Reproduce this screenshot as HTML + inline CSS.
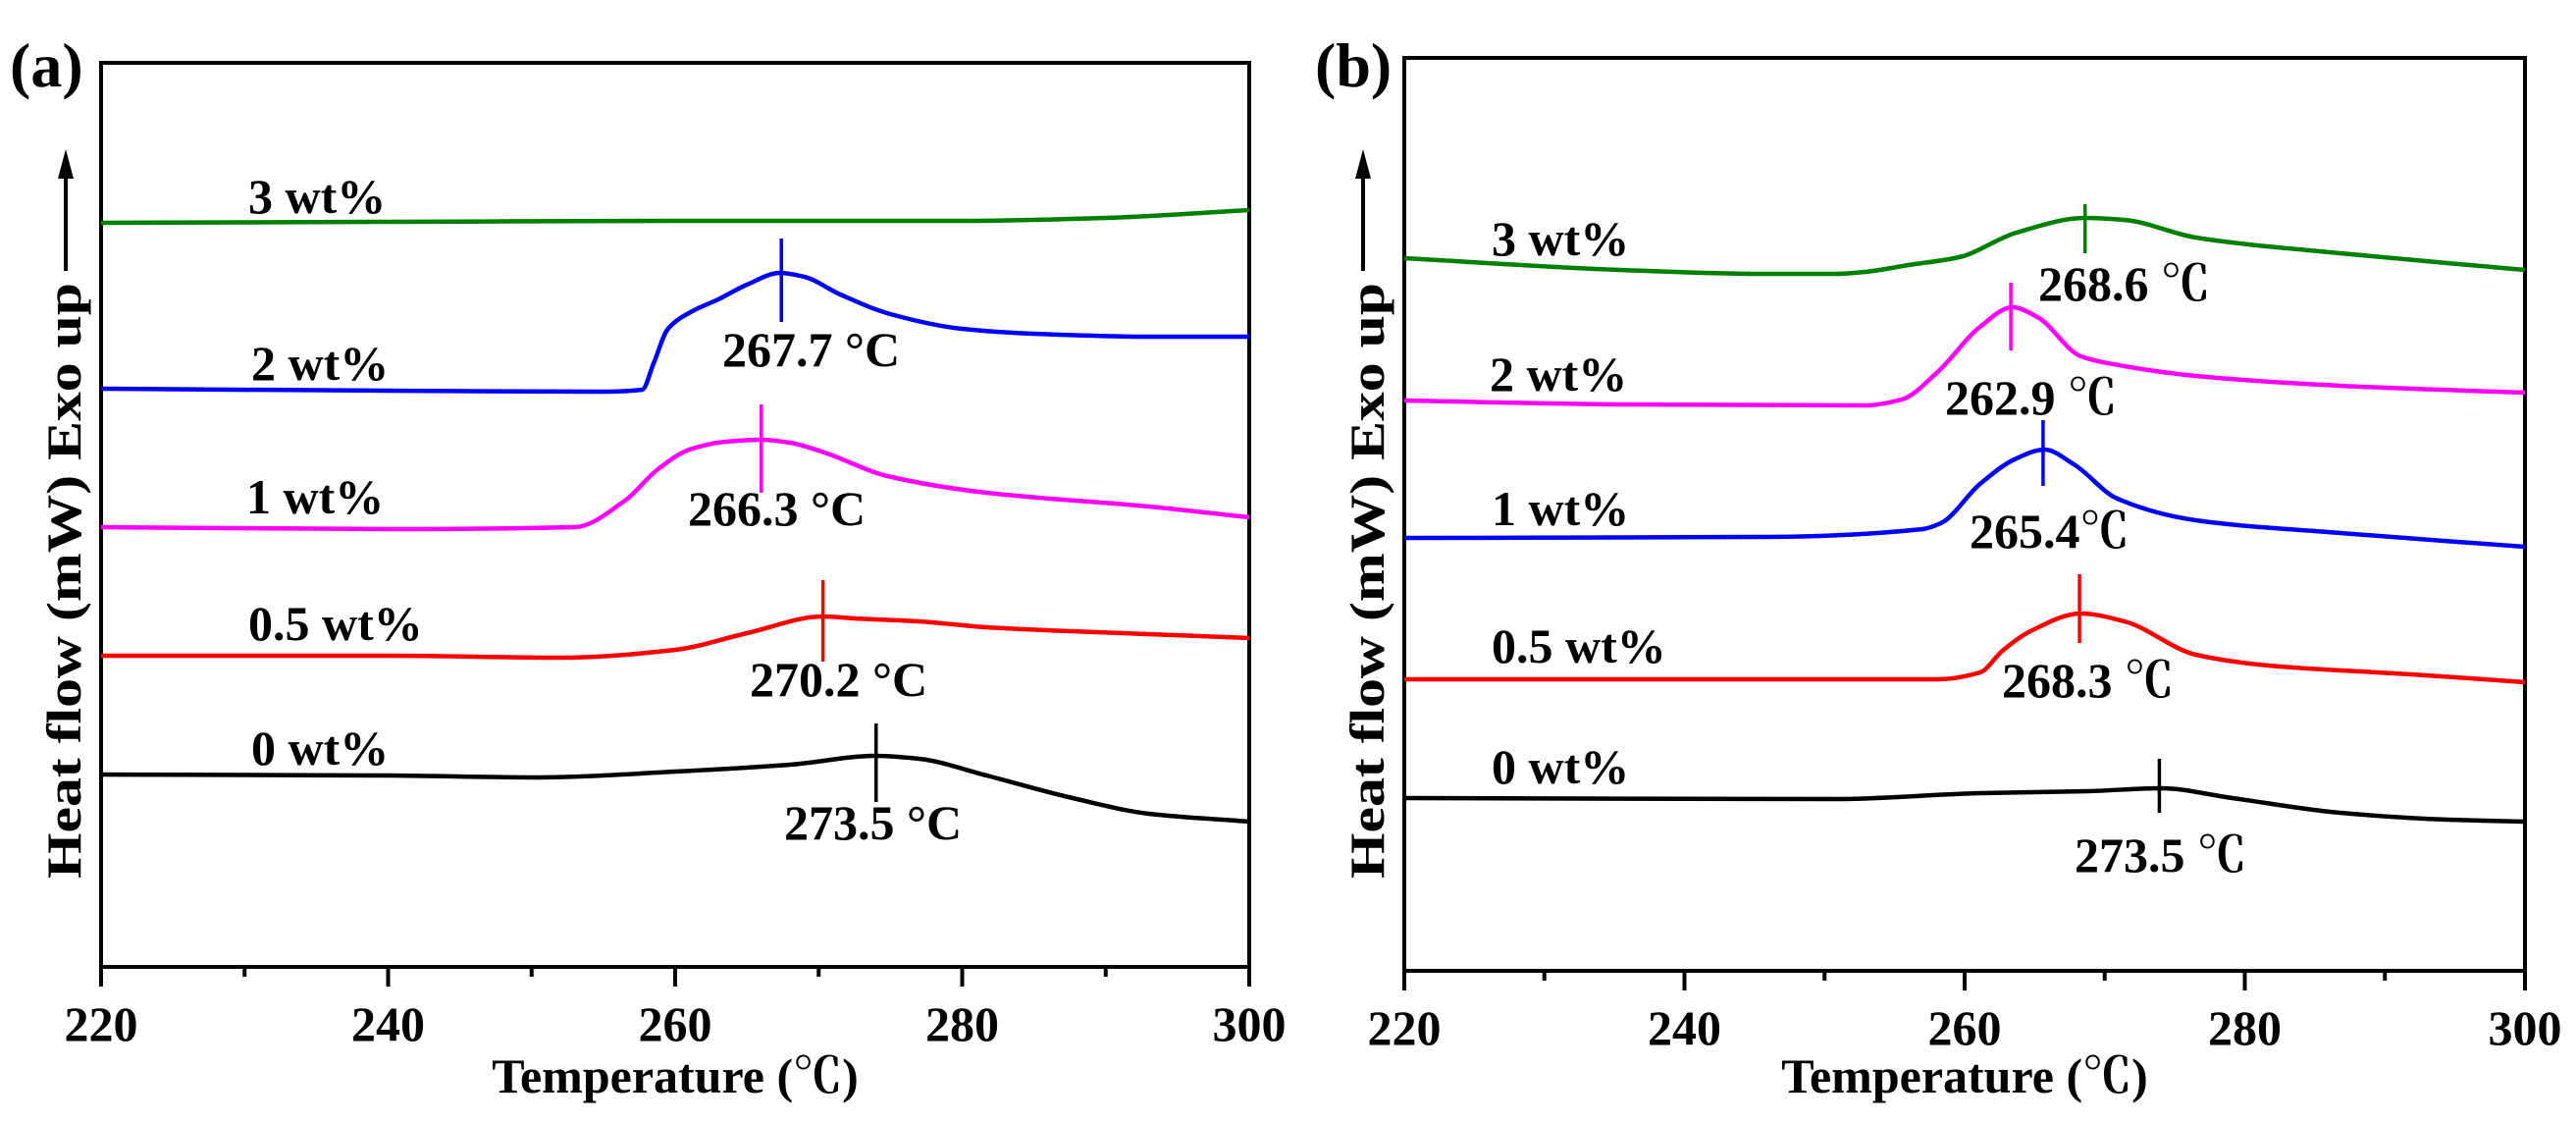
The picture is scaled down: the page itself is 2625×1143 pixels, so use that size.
<!DOCTYPE html>
<html>
<head>
<meta charset="utf-8">
<style>
html,body{margin:0;padding:0;background:#fff;}
svg{display:block;}
text{font-family:"Liberation Serif","Noto Serif CJK SC",serif;font-weight:bold;fill:#000;}
</style>
</head>
<body>
<svg id="fig" width="2625" height="1143" viewBox="0 0 2625 1143" xmlns="http://www.w3.org/2000/svg"></svg>
<script>
// ---------- data: panel (a) ----------
const xTicks = [220, 240, 260, 280, 300];
const xMinor = [230, 250, 270, 290];
const seriesNames = ["3 wt%", "2 wt%", "1 wt%", "0.5 wt%", "0 wt%"];
const seriesColors = ["#008000", "#0000ff", "#ff00ff", "#ff0000", "#000000"];

const aGreenT = [220, 240, 260, 280, 290, 300];
const aGreenV = [758, 759, 760, 760, 763, 771];
const aBlueT = [220, 240, 255, 257.7, 258.5, 259.5, 261.2, 263, 265, 267.3, 269, 271.5, 275, 280, 285, 293, 300];
const aBlueV = [589, 587, 586, 588, 615, 650, 668, 680, 695, 707, 703, 685, 665, 650, 645, 642, 642];
const aMagT = [220, 240, 253, 256.5, 258.8, 261, 263.5, 266, 268, 270.2, 274.8, 281.7, 293, 300];
const aMagV = [448, 446, 448, 475, 507, 527, 535, 537, 534, 525, 500, 483, 469, 458];
const aRedT = [220, 240, 252, 260, 265, 270.3, 272.5, 277, 281.7, 293, 300];
const aRedV = [317, 317, 315, 323, 340, 357, 355, 352, 346, 339, 335];
const aBlackT = [220, 240, 250.6, 260, 268, 274, 277, 281.7, 287.4, 293, 300];
const aBlackV = [196, 195, 193, 199, 206, 215, 212, 195, 173, 156, 148];
const aPeakT = [null, 267.4, 266.0, 270.3, 274.0];
const aPeakTop = [null, 742, 573, 394, 248];
const aPeakBot = [null, 657, 483, 311, 168];
const aPeakLabels = ["", "267.7 °C", "266.3 °C", "270.2 °C", "273.5 °C"];

// ---------- data: panel (b) ----------
const bGreenT = [220, 235.4, 245.7, 250.8, 252.9, 256, 259.6, 263.7, 268.6, 271.4, 276.5, 286.8, 300];
const bGreenV = [726, 714, 710, 710, 712, 719, 727, 752, 767, 765, 747, 731, 714];
const bMagT = [220, 235.4, 252.9, 255.5, 258, 261.1, 263.4, 265.2, 268.3, 271.4, 276.5, 286.8, 300];
const bMagV = [581, 577, 576, 582, 609, 656, 676, 666, 626, 616, 606, 596, 589];
const bBlueT = [220, 245.7, 257, 258.3, 261.1, 263.7, 265.7, 267.8, 270.9, 276.5, 286.8, 300];
const bBlueV = [441, 442, 450, 456, 496, 522, 531, 516, 481, 459, 446, 432];
const bRedT = [220, 258, 261.1, 262.7, 264.7, 268.3, 271.4, 276.5, 281.7, 291.9, 300];
const bRedV = [297, 297, 304, 326, 346, 364, 356, 322, 311, 302, 294];
const bBlackT = [220, 250.8, 261.1, 268.8, 274, 279.1, 286.8, 294.5, 300];
const bBlackV = [176, 175, 181, 183, 186, 176, 161, 154, 152];
const bPeakT = [268.6, 263.3, 265.6, 268.2, 273.9];
const bPeakTop = [781, 701, 561, 404, 216];
const bPeakBot = [731, 632, 494, 334, 161];
const bPeakLabels = ["268.6 ℃", "262.9 ℃", "265.4℃", "268.3 ℃", "273.5 ℃"];

const NS = "http://www.w3.org/2000/svg";
const svg = document.getElementById("fig");
function el(tag, attrs, parent) {
  const e = document.createElementNS(NS, tag);
  for (const k in attrs) e.setAttribute(k, attrs[k]);
  (parent || svg).appendChild(e);
  return e;
}
// monotone cubic (Fritsch-Carlson) path through screen points
function smoothPath(pts) {
  const n = pts.length;
  const dx = [], dy = [], m = [];
  for (let i = 0; i < n - 1; i++) {
    dx.push(pts[i + 1][0] - pts[i][0]);
    dy.push(pts[i + 1][1] - pts[i][1]);
    m.push(dy[i] / dx[i]);
  }
  const t = new Array(n);
  t[0] = m[0]; t[n - 1] = m[n - 2];
  for (let i = 1; i < n - 1; i++) {
    if (m[i - 1] * m[i] <= 0) t[i] = 0;
    else {
      const w1 = 2 * dx[i] + dx[i - 1], w2 = dx[i] + 2 * dx[i - 1];
      t[i] = (w1 + w2) / (w1 / m[i - 1] + w2 / m[i]);
    }
  }
  let d = "M" + pts[0][0].toFixed(1) + "," + pts[0][1].toFixed(1);
  for (let i = 0; i < n - 1; i++) {
    const h = dx[i] / 3;
    d += " C" + (pts[i][0] + h).toFixed(1) + "," + (pts[i][1] + t[i] * h).toFixed(1) + " " +
      (pts[i + 1][0] - h).toFixed(1) + "," + (pts[i + 1][1] - t[i + 1] * h).toFixed(1) + " " +
      pts[i + 1][0].toFixed(1) + "," + pts[i + 1][1].toFixed(1);
  }
  return d;
}

function drawPanel(cfg) {
  const {id, left, right, top, bottom, letter, letterX, letterY, series, colors, peakT, peakTop, peakBot, peakLabels, nameLabelPos, peakLabelPos, ylabX, arrowX} = cfg;
  const g = el("g", {});
  
  
  const xs = t => left + (t - 220) / 80 * (right - left);
  const ys = v => bottom - v / (bottom - top) * (bottom - top);

  const frame = el("rect", {x: left, y: top, width: right - left, height: bottom - top, fill: "none", stroke: "#000", "stroke-width": 4}, g);
  
  

  xTicks.forEach(t => {
    const tk = el("line", {x1: xs(t), x2: xs(t), y1: bottom, y2: bottom + 20, stroke: "#000", "stroke-width": 4}, g);
    
    
    const lb = el("text", {x: xs(t), y: bottom + 75, "text-anchor": "middle", "font-size": 50}, g);
    
    
    lb.textContent = t;
  });
  xMinor.forEach(t => {
    const tk = el("line", {x1: xs(t), x2: xs(t), y1: bottom, y2: bottom + 10, stroke: "#000", "stroke-width": 4}, g);
    
    
  });
  const xt = el("text", {x: (left + right) / 2, y: 1113, "text-anchor": "middle", "font-size": 50}, g);
  
  
  xt.textContent = "Temperature (℃)";

  const yl = el("text", {transform: "translate(" + ylabX + ",895) rotate(-90)", "font-size": 50, textLength: 607, lengthAdjust: "spacingAndGlyphs"}, g);
  
  
  yl.textContent = "Heat flow (mW) Exo up";
  const ar = el("line", {x1: arrowX, x2: arrowX, y1: 276, y2: 175, stroke: "#000", "stroke-width": 4}, g);
  
  
  const ah = el("polygon", {points: (arrowX - 8) + ",182 " + (arrowX + 8) + ",182 " + arrowX + ",152", fill: "#000"}, g);
  
  

  const pl = el("text", {x: letterX, y: letterY, "font-size": 64}, g);
  
  
  pl.textContent = letter;

  series.forEach((s, i) => {
    const pts = s[0].map((t, j) => [xs(t), ys(s[1][j])]);
    const p = el("path", {d: smoothPath(pts), fill: "none", stroke: colors[i], "stroke-width": 4.5, "stroke-linejoin": "round"}, g);
    
    
    const nl = el("text", {x: nameLabelPos[i][0], y: nameLabelPos[i][1], "font-size": 50}, g);
    
    
    nl.textContent = seriesNames[i];
    if (peakT[i] !== null) {
      const pk = el("line", {x1: xs(peakT[i]), x2: xs(peakT[i]), y1: ys(peakTop[i]), y2: ys(peakBot[i]), stroke: colors[i], "stroke-width": 3.5}, g);
      
      
      const pt = el("text", {x: peakLabelPos[i][0], y: peakLabelPos[i][1], "font-size": 50}, g);
      
      
      pt.textContent = peakLabels[i];
    }
  });
}

drawPanel({
  id: "a", left: 103, right: 1273, top: 64, bottom: 985, letter: "(a)", letterX: 10, letterY: 88,
  series: [[aGreenT, aGreenV], [aBlueT, aBlueV], [aMagT, aMagV], [aRedT, aRedV], [aBlackT, aBlackV]],
  colors: ["#008000", "#0000ff", "#ff00ff", "#ff0000", "#000000"],
  peakT: aPeakT, peakTop: aPeakTop, peakBot: aPeakBot, peakLabels: aPeakLabels,
  nameLabelPos: [[253, 217], [256, 387], [251, 523], [253, 652], [256, 779]],
  peakLabelPos: [[0, 0], [736, 373], [701, 535], [764, 709], [799, 855]],
  ylabX: 82, arrowX: 67
});
drawPanel({
  id: "b", left: 1431, right: 2573, top: 59, bottom: 989, letter: "(b)", letterX: 1340, letterY: 88,
  series: [[bGreenT, bGreenV], [bMagT, bMagV], [bBlueT, bBlueV], [bRedT, bRedV], [bBlackT, bBlackV]],
  colors: ["#008000", "#ff00ff", "#0000ff", "#ff0000", "#000000"],
  peakT: bPeakT, peakTop: bPeakTop, peakBot: bPeakBot, peakLabels: bPeakLabels,
  nameLabelPos: [[1520, 260], [1518, 398], [1520, 535], [1520, 675], [1520, 798]],
  peakLabelPos: [[2077, 306], [1982, 422], [2007, 558], [2040, 710], [2114, 888]],
  ylabX: 1410, arrowX: 1389
});
</script>
</body>
</html>
